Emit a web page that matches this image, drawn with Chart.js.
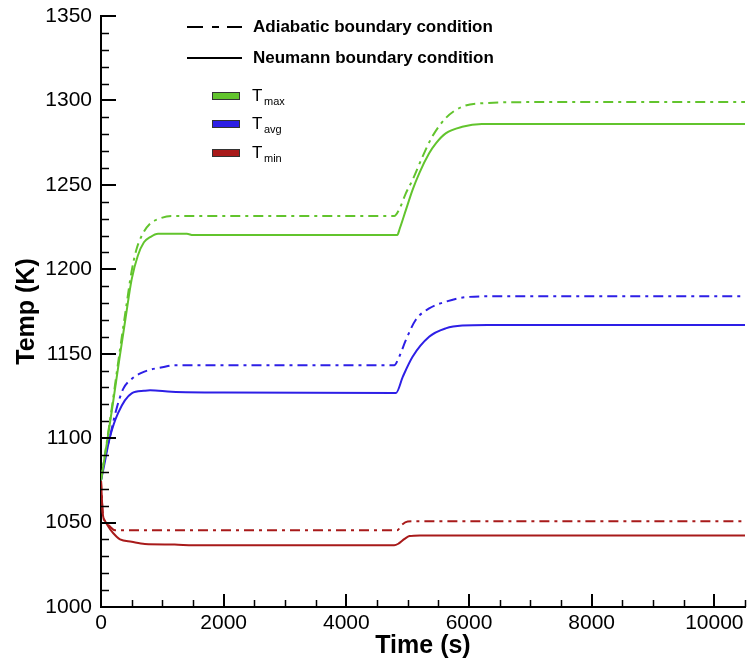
<!DOCTYPE html>
<html><head><meta charset="utf-8">
<script src="https://cdn.jsdelivr.net/npm/chart.js@4.4.0/dist/chart.umd.min.js"></script>
<style>html,body{margin:0;padding:0;background:#fff}#wrap{width:750px;height:661px}</style>
</head><body><div id="wrap"><canvas id="c" width="750" height="661"></canvas></div>
<script>
// ---- data (time in s, temperature in K) ----
const tmaxAdiabaticTime = [0,100,200,300,400,500,580,680,800,950,1150,4780,4870,4970,5080,5240,5400,5620,5890,6320,7000,10500];
const tmaxAdiabaticTemp = [1075,1099,1124,1150,1175,1199,1212,1221,1227,1230,1231.5,1231.5,1236,1245,1253,1266.5,1278.5,1289.5,1296.3,1298.5,1299,1299];
const tmaxNeumannTime = [0,100,200,300,400,500,600,700,800,930,1400,1500,4830,4870,4970,5080,5190,5350,5460,5620,5890,6210,10500];
const tmaxNeumannTemp = [1075,1098,1122,1147,1171,1194,1208,1216,1219,1221,1221,1220.3,1220.3,1224,1235,1247,1257,1268.7,1274.6,1280.5,1284.4,1286,1286];
const tavgAdiabaticTime = [0,50,140,250,360,500,650,800,1000,1200,4780,4860,4970,5130,5350,5620,5950,6400,10500];
const tavgAdiabaticTemp = [1075,1086,1100,1117,1129,1135,1138.5,1140.5,1142,1143.2,1143.2,1148,1158,1170,1176.8,1180.8,1183.5,1184,1184];
const tavgNeumannTime = [0,35,145,280,500,700,800,1150,2000,4810,4920,5080,5350,5620,5890,6300,10500];
const tavgNeumannTemp = [1075,1081,1100.5,1115,1126.5,1128,1128.3,1127.5,1127,1126.8,1136.3,1148.2,1160,1165,1166.7,1167,1167];
const tminAdiabaticTime = [0,30,65,150,230,4830,4900,5000,5200,10500];
const tminAdiabaticTemp = [1075,1055,1051,1047.5,1045.4,1045.4,1048.5,1050.6,1050.8,1050.8];
const tminNeumannTime = [0,30,65,150,255,310,500,715,1200,1500,4780,4850,4950,5030,5200,10500];
const tminNeumannTemp = [1075,1055,1051,1046,1041.6,1040,1038.6,1037.3,1037,1036.5,1036.5,1037.5,1040.3,1042,1042.4,1042.4];

const xTickValues = [0,2000,4000,6000,8000,10000];
const xMinorValues = [500,1000,1500,2500,3000,3500,4500,5000,5500,6500,7000,7500,8500,9000,9500,10500];
const yTickValues = [1000,1050,1100,1150,1200,1250,1300,1350];
const yMinorValues = [1010,1020,1030,1040,1060,1070,1080,1090,1110,1120,1130,1140,1160,1170,1180,1190,1210,1220,1230,1240,1260,1270,1280,1290,1310,1320,1330,1340];

const legendConditions = ['Adiabatic boundary condition','Neumann boundary condition'];
const legendSeries = [['T','max'],['T','avg'],['T','min']];

// ---- styles ----
const GREEN = '#62c42d', BLUE = '#2d1fe6', RED = '#a81a1a';
const DASHDOT = [10,5,3,5];
const FONT = "'Liberation Sans', Arial, sans-serif";

function pts(xs, ys){ return xs.map((x,i)=>({x:x, y:ys[i]})); }
function ds(label, xs, ys, color, dashed){
  return {label, data: pts(xs,ys), borderColor: color, backgroundColor: color,
    borderWidth: 2, pointRadius: 0, borderDash: dashed ? DASHDOT : [],
    cubicInterpolationMode: 'monotone', fill: false};
}

const tickPlugin = {
  id: 'innerTicks',
  afterDraw(chart){
    const ctx = chart.ctx, xs = chart.scales.x, ys = chart.scales.y;
    const area = chart.chartArea;
    ctx.save();
    ctx.strokeStyle = '#000'; ctx.lineWidth = 2;
    ctx.beginPath();
    xTickValues.forEach(v=>{ const p = Math.round(xs.getPixelForValue(v)); ctx.moveTo(p, area.bottom); ctx.lineTo(p, area.bottom-13); });
    yTickValues.forEach(v=>{ const p = Math.round(ys.getPixelForValue(v)); ctx.moveTo(area.left, p); ctx.lineTo(area.left+15, p); });
    ctx.stroke();
    ctx.lineWidth = 1.5;
    ctx.beginPath();
    xMinorValues.forEach(v=>{ const p = Math.round(xs.getPixelForValue(v))+0.5; ctx.moveTo(p, area.bottom); ctx.lineTo(p, area.bottom-7); });
    yMinorValues.forEach(v=>{ const p = Math.round(ys.getPixelForValue(v))+0.5; ctx.moveTo(area.left, p); ctx.lineTo(area.left+8, p); });
    ctx.stroke();

    // legend
    ctx.strokeStyle = '#000'; ctx.lineWidth = 2;
    ctx.beginPath();
    ctx.moveTo(187,27); ctx.lineTo(203,27);
    ctx.moveTo(212,27); ctx.lineTo(219,27);
    ctx.moveTo(227,27); ctx.lineTo(242,27);
    ctx.moveTo(187,58); ctx.lineTo(242,58);
    ctx.stroke();
    ctx.fillStyle = '#000';
    ctx.textBaseline = 'middle'; ctx.textAlign = 'left';
    ctx.font = "bold 17px " + FONT;
    ctx.fillText(legendConditions[0], 253, 27);
    ctx.fillText(legendConditions[1], 253, 58);
    const cols = [GREEN, BLUE, RED], ys2 = [96,124,153];
    legendSeries.forEach((s,i)=>{
      const y = ys2[i];
      ctx.fillStyle = cols[i];
      ctx.fillRect(212, y-3.5, 28, 7);
      ctx.strokeStyle = '#333'; ctx.lineWidth = 1;
      ctx.strokeRect(212.5, y-3.5, 27, 7);
      ctx.fillStyle = '#000';
      ctx.font = "17px " + FONT;
      ctx.fillText(s[0], 252, y);
      ctx.font = "11px " + FONT;
      ctx.fillText(s[1], 264, y+6);
    });
    ctx.restore();
  }
};

new Chart(document.getElementById('c'), {
  type: 'line',
  data: { datasets: [
    ds('Tmax adiabatic', tmaxAdiabaticTime, tmaxAdiabaticTemp, GREEN, true),
    ds('Tmax Neumann', tmaxNeumannTime, tmaxNeumannTemp, GREEN, false),
    ds('Tavg adiabatic', tavgAdiabaticTime, tavgAdiabaticTemp, BLUE, true),
    ds('Tavg Neumann', tavgNeumannTime, tavgNeumannTemp, BLUE, false),
    ds('Tmin adiabatic', tminAdiabaticTime, tminAdiabaticTemp, RED, true),
    ds('Tmin Neumann', tminNeumannTime, tminNeumannTemp, RED, false)
  ]},
  options: {
    responsive: false, animation: false, devicePixelRatio: 1,
    layout: { padding: { top: 16, right: 5, left: 0, bottom: 0 } },
    plugins: { legend: { display: false }, tooltip: { enabled: false } },
    scales: {
      x: {
        type: 'linear', min: 0, max: 10500,
        afterBuildTicks: s => { s.ticks = xTickValues.map(v=>({value:v})); },
        afterFit: s => { s.height = 54; },
        ticks: { color: '#000', font: { family: FONT, size: 21 }, padding: 4, maxRotation: 0, autoSkip: false, callback: v => String(v) },
        grid: { display: false, drawTicks: false, tickLength: 0 },
        border: { display: true, color: '#000', width: 2 },
        title: { display: true, text: 'Time (s)', color: '#000', font: { family: FONT, size: 25, weight: 'bold' }, padding: { top: 0, bottom: 0 } }
      },
      y: {
        type: 'linear', min: 1000, max: 1350,
        afterBuildTicks: s => { s.ticks = yTickValues.map(v=>({value:v})); },
        afterFit: s => { s.width = 101; s.paddingTop = 0; s.paddingBottom = 0; },
        ticks: { color: '#000', font: { family: FONT, size: 21 }, padding: 9, autoSkip: false, callback: v => String(v) },
        grid: { display: false, drawTicks: false, tickLength: 0 },
        border: { display: true, color: '#000', width: 2 },
        title: { display: true, text: 'Temp (K)', color: '#000', font: { family: FONT, size: 25, weight: 'bold' }, padding: { top: 12, bottom: 0 } }
      }
    }
  },
  plugins: [tickPlugin]
});
</script></body></html>
